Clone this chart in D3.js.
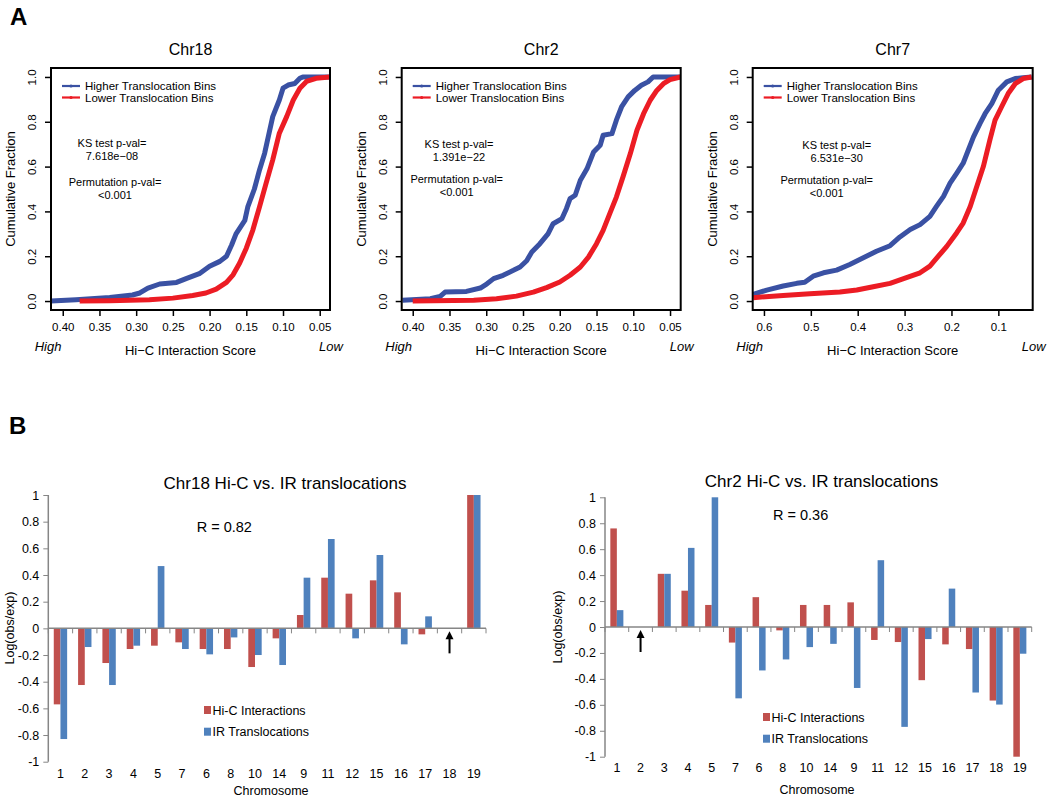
<!DOCTYPE html>
<html><head><meta charset="utf-8">
<script src="https://cdn.jsdelivr.net/npm/d3@7"></script>
<style>body{margin:0;background:#fff} text{font-family:"Liberation Sans",Arial,sans-serif;fill:#000}</style>
</head><body>
<svg id="c" width="1050" height="800"></svg>
<script>
// ---------------- Panel A data ----------------
const ecdfTitles = ["Chr18", "Chr2", "Chr7"];
const ksPvals = ["7.618e\u221208", "1.391e\u221222", "6.531e\u221230"];
const permPvals = ["<0.001", "<0.001", "<0.001"];
const legendLabels = ["Higher Translocation Bins", "Lower Translocation Bins"];
const xTicks18 = [0.40, 0.35, 0.30, 0.25, 0.20, 0.15, 0.10, 0.05];
const xTicks2 = [0.40, 0.35, 0.30, 0.25, 0.20, 0.15, 0.10, 0.05];
const xTicks7 = [0.6, 0.5, 0.4, 0.3, 0.2, 0.1];
const yTicksA = [0.0, 0.2, 0.4, 0.6, 0.8, 1.0];

// [Hi-C score, cumulative fraction]
const chr18High = [[0.416,0],[0.382,0.006],[0.336,0.016],[0.305,0.027],[0.295,0.036],[0.284,0.058],[0.268,0.076],[0.245,0.083],[0.232,0.10],[0.214,0.122],[0.20,0.155],[0.186,0.177],[0.177,0.20],[0.170,0.25],[0.164,0.30],[0.152,0.36],[0.148,0.42],[0.139,0.50],[0.132,0.585],[0.125,0.66],[0.120,0.734],[0.114,0.823],[0.105,0.897],[0.100,0.95],[0.093,0.964],[0.084,0.971],[0.077,0.994],[0.073,1.0],[0.036,1.0]];
const chr18Low = [[0.377,0],[0.336,0.0015],[0.282,0.006],[0.25,0.013],[0.223,0.025],[0.205,0.036],[0.191,0.053],[0.177,0.083],[0.168,0.117],[0.159,0.17],[0.150,0.236],[0.141,0.318],[0.132,0.42],[0.123,0.526],[0.114,0.63],[0.105,0.749],[0.095,0.823],[0.086,0.897],[0.077,0.95],[0.068,0.98],[0.055,0.994],[0.036,1.0]];
const chr2High = [[0.414,0.003],[0.376,0.01],[0.363,0.02],[0.356,0.04],[0.327,0.043],[0.308,0.058],[0.299,0.077],[0.290,0.10],[0.277,0.115],[0.263,0.137],[0.254,0.152],[0.245,0.18],[0.238,0.219],[0.227,0.256],[0.216,0.30],[0.209,0.345],[0.197,0.368],[0.191,0.412],[0.186,0.457],[0.179,0.472],[0.172,0.539],[0.163,0.59],[0.154,0.665],[0.145,0.695],[0.141,0.74],[0.129,0.747],[0.123,0.807],[0.116,0.866],[0.107,0.911],[0.098,0.94],[0.089,0.963],[0.080,0.978],[0.073,1.0],[0.036,1.0]];
const chr2Low = [[0.40,0],[0.317,0.003],[0.286,0.01],[0.259,0.022],[0.236,0.04],[0.218,0.06],[0.20,0.085],[0.186,0.115],[0.172,0.152],[0.161,0.196],[0.150,0.256],[0.141,0.315],[0.132,0.39],[0.123,0.464],[0.114,0.554],[0.104,0.658],[0.095,0.762],[0.086,0.836],[0.077,0.896],[0.068,0.94],[0.059,0.97],[0.05,0.988],[0.036,1.0]];
const chr7High = [[0.623,0.03],[0.594,0.049],[0.559,0.067],[0.530,0.079],[0.513,0.084],[0.495,0.111],[0.473,0.126],[0.445,0.138],[0.417,0.163],[0.388,0.193],[0.360,0.222],[0.331,0.247],[0.310,0.286],[0.288,0.319],[0.267,0.341],[0.246,0.378],[0.232,0.422],[0.217,0.467],[0.203,0.526],[0.189,0.570],[0.175,0.615],[0.164,0.674],[0.153,0.733],[0.139,0.793],[0.128,0.837],[0.114,0.881],[0.1,0.941],[0.082,0.978],[0.064,0.993],[0.047,0.997],[0.029,1.0]];
const chr7Low = [[0.623,0.015],[0.559,0.025],[0.502,0.033],[0.438,0.04],[0.402,0.049],[0.367,0.064],[0.331,0.079],[0.296,0.104],[0.267,0.126],[0.246,0.156],[0.228,0.20],[0.210,0.244],[0.189,0.304],[0.175,0.348],[0.160,0.422],[0.146,0.511],[0.132,0.60],[0.118,0.719],[0.107,0.807],[0.093,0.867],[0.079,0.926],[0.064,0.97],[0.047,0.993],[0.029,1.0]];

// ---------------- Panel B data ----------------
const chromosomes = ["1","2","3","4","5","7","6","8","10","14","9","11","12","15","16","17","18","19"];
const seriesNames = ["Hi-C Interactions", "IR Translocations"];
const chr18HiC = [-0.57,-0.425,-0.26,-0.155,-0.13,-0.105,-0.155,-0.155,-0.29,-0.075,0.10,0.38,0.26,0.36,0.27,-0.045,null,1.0];
const chr18IR  = [-0.83,-0.14,-0.425,-0.13,0.467,-0.155,-0.195,-0.068,-0.20,-0.275,0.38,0.67,-0.075,0.55,-0.12,0.09,null,1.0];
const chr2HiC  = [0.76,null,0.41,0.28,0.17,-0.12,0.23,-0.026,0.17,0.17,0.19,-0.10,-0.116,-0.41,-0.134,-0.17,-0.567,-1.0];
const chr2IR   = [0.13,null,0.41,0.61,1.0,-0.55,-0.335,-0.25,-0.155,-0.13,-0.47,0.515,-0.77,-0.093,0.296,-0.505,-0.598,-0.206];
const barTitles = ["Chr18 Hi-C vs. IR translocations", "Chr2 Hi-C vs. IR translocations"];
const rLabels = ["R = 0.82", "R = 0.36"];
const selfChrom = ["18", "2"];
const yTicksB = [1,0.8,0.6,0.4,0.2,0,-0.2,-0.4,-0.6,-0.8,-1];

const svg = d3.select("#c");
const BLUE = "#3a51a3", RED = "#ec1c24";
const BAR_RED = "#c0504d", BAR_BLUE = "#4f81bd", AXIS_GRAY = "#868686";

// panel labels
svg.append("text").attr("x", 10).attr("y", 25).attr("font-size", 24).attr("font-weight", "bold").text("A");
svg.append("text").attr("x", 9).attr("y", 434).attr("font-size", 24).attr("font-weight", "bold").text("B");

// ---------------- Panel A ----------------
const ecdfData = [[chr18High, chr18Low], [chr2High, chr2Low], [chr7High, chr7Low]];
const xTickSets = [xTicks18, xTicks2, xTicks7];
const tickFmts = [d3.format(".2f"), d3.format(".2f"), d3.format(".1f")];
const boxes = [
  {L: 51, R: 330, dom: [0.416, 0.036], ks: [112, 143], perm: [115, 182]},
  {L: 401.7, R: 680.7, dom: [0.415, 0.0355], ks: [459, 144], perm: [456.7, 179]},
  {L: 752.7, R: 1032.7, dom: [0.624, 0.0267], ks: [836.7, 145], perm: [826.7, 180]}
];
const TOP = 68, BOT = 310;

boxes.forEach((b, i) => {
  const g = svg.append("g");
  const x = d3.scaleLinear().domain(b.dom).range([b.L, b.R]);
  const y = d3.scaleLinear().domain([-0.04, 1.04]).range([BOT, TOP]);

  // curves
  const line = d3.line().x(d => x(d[0])).y(d => y(d[1]));
  const clipId = "clip" + i;
  svg.append("clipPath").attr("id", clipId).append("rect")
    .attr("x", b.L).attr("y", TOP).attr("width", b.R - b.L).attr("height", BOT - TOP);
  [BLUE, RED].forEach((col, k) => {
    g.append("path").datum(ecdfData[i][k]).attr("d", line)
      .attr("fill", "none").attr("stroke", col).attr("stroke-width", 5)
      .attr("stroke-linejoin", "round").attr("clip-path", `url(#${clipId})`);
  });

  // box
  g.append("rect").attr("x", b.L).attr("y", TOP).attr("width", b.R - b.L).attr("height", BOT - TOP)
    .attr("fill", "none").attr("stroke", "#000").attr("stroke-width", 2);

  // x axis
  const xa = g.append("g").attr("transform", `translate(0,${BOT})`)
    .call(d3.axisBottom(x).tickValues(xTickSets[i]).tickFormat(tickFmts[i]).tickSize(6).tickPadding(7));
  xa.select(".domain").remove();
  xa.selectAll("line").attr("stroke", "#000").attr("stroke-width", 1.5);
  xa.selectAll("text").attr("font-size", 11.5).attr("font-family", "Liberation Sans, Arial").attr("fill", "#000");

  // y axis
  const ya = g.append("g").attr("transform", `translate(${b.L},0)`)
    .call(d3.axisLeft(y).tickValues(yTicksA).tickFormat(d3.format(".1f")).tickSize(6));
  ya.select(".domain").remove();
  ya.selectAll("line").attr("stroke", "#000").attr("stroke-width", 1.5);
  ya.selectAll("text").attr("x", 0).attr("dy", 0).attr("text-anchor", "middle")
    .attr("transform", "translate(-15,0) rotate(-90)")
    .attr("font-size", 11.5).attr("font-family", "Liberation Sans, Arial").attr("fill", "#000");

  // y title
  g.append("text").attr("transform", `translate(${b.L - 36},${(TOP + BOT) / 2}) rotate(-90)`)
    .attr("text-anchor", "middle").attr("font-size", 13).text("Cumulative Fraction");

  // title
  g.append("text").attr("x", (b.L + b.R) / 2).attr("y", 54.5).attr("text-anchor", "middle")
    .attr("font-size", 16).text(ecdfTitles[i]);

  // x title & High / Low
  g.append("text").attr("x", (b.L + b.R) / 2).attr("y", 355).attr("text-anchor", "middle")
    .attr("font-size", 13).text("Hi\u2212C Interaction Score");
  g.append("text").attr("x", b.L - 3).attr("y", 351).attr("text-anchor", "middle")
    .attr("font-size", 13).attr("font-style", "italic").text("High");
  g.append("text").attr("x", b.R + 1).attr("y", 351).attr("text-anchor", "middle")
    .attr("font-size", 13).attr("font-style", "italic").text("Low");

  // legend
  [BLUE, RED].forEach((col, k) => {
    const ly = 86 + k * 11.5;
    g.append("line").attr("x1", b.L + 11).attr("x2", b.L + 29).attr("y1", ly).attr("y2", ly)
      .attr("stroke", col).attr("stroke-width", 2.2);
    g.append("circle").attr("cx", b.L + 20).attr("cy", ly).attr("r", 1.6).attr("fill", col);
    g.append("text").attr("x", b.L + 34).attr("y", ly + 4).attr("font-size", 11.5).text(legendLabels[k]);
  });

  // stats text
  g.append("text").attr("x", b.ks[0]).attr("y", b.ks[1] + 4).attr("text-anchor", "middle").attr("font-size", 11).text("KS test p-val=");
  g.append("text").attr("x", b.ks[0]).attr("y", b.ks[1] + 17).attr("text-anchor", "middle").attr("font-size", 11).text(ksPvals[i]);
  g.append("text").attr("x", b.perm[0]).attr("y", b.perm[1] + 4).attr("text-anchor", "middle").attr("font-size", 11).text("Permutation p-val=");
  g.append("text").attr("x", b.perm[0]).attr("y", b.perm[1] + 17).attr("text-anchor", "middle").attr("font-size", 11).text(permPvals[i]);
});

// ---------------- Panel B ----------------
const barSets = [[chr18HiC, chr18IR], [chr2HiC, chr2IR]];
const bBoxes = [
  {x0: 48.3, x1: 486, yTop: 495, yBot: 761.7, title: [285, 489], r: [196.7, 532], leg: [204, 710], ytitle: [14, 628], xlab: 781, xtitle: [271, 795]},
  {x0: 605, x1: 1031.7, yTop: 497.3, yBot: 756.7, title: [821.5, 487], r: [773, 520], leg: [763, 717], ytitle: [562, 627], xlab: 775, xtitle: [817, 794]}
];

bBoxes.forEach((b, i) => {
  const g = svg.append("g");
  const y = d3.scaleLinear().domain([-1, 1]).range([b.yBot, b.yTop]);
  const x = d3.scaleBand().domain(chromosomes).range([b.x0, b.x1]).paddingInner(0.45).paddingOuter(0.225);
  const xs = d3.scaleBand().domain(seriesNames).range([0, x.bandwidth()]);
  const step = x.step();

  // bars
  [BAR_RED, BAR_BLUE].forEach((col, k) => {
    const vals = barSets[i][k];
    g.selectAll(null).data(chromosomes.map((c, j) => ({c, v: vals[j]})).filter(d => d.v !== null))
      .enter().append("rect")
      .attr("x", d => x(d.c) + xs(seriesNames[k]))
      .attr("width", xs.bandwidth())
      .attr("y", d => Math.min(y(d.v), y(0)))
      .attr("height", d => Math.abs(y(d.v) - y(0)))
      .attr("fill", col);
  });

  // y axis
  const ya = g.append("g").attr("transform", `translate(${b.x0},0)`)
    .call(d3.axisLeft(y).tickValues(yTicksB).tickSize(5).tickPadding(4));
  ya.select(".domain").attr("stroke", AXIS_GRAY).attr("stroke-width", 1.5).attr("d", `M0,${b.yTop}V${b.yBot}`);
  ya.selectAll("line").attr("stroke", AXIS_GRAY).attr("stroke-width", 1);
  ya.selectAll("text").attr("font-size", 12.5).attr("font-family", "Liberation Sans, Arial").attr("fill", "#000")
    .text(d => String(+d.toFixed(1)));

  // x axis line at 0 with boundary ticks
  const y0 = y(0);
  g.append("line").attr("x1", b.x0).attr("x2", b.x1).attr("y1", y0).attr("y2", y0)
    .attr("stroke", AXIS_GRAY).attr("stroke-width", 1.5);
  d3.range(chromosomes.length + 1).forEach(j => {
    const tx = b.x0 + j * step;
    g.append("line").attr("x1", tx).attr("x2", tx).attr("y1", y0).attr("y2", y0 + 5)
      .attr("stroke", AXIS_GRAY).attr("stroke-width", 1);
  });

  // category labels
  const xa = g.append("g").attr("transform", `translate(0,${b.xlab - 12})`)
    .call(d3.axisBottom(x).tickSize(0).tickPadding(0));
  xa.select(".domain").remove();
  xa.selectAll("text").attr("font-size", 12.5).attr("font-family", "Liberation Sans, Arial").attr("fill", "#000");

  // arrow at self chromosome
  const ax = x(selfChrom[i]) + x.bandwidth() / 2;
  g.append("line").attr("x1", ax).attr("x2", ax).attr("y1", y0 + 8).attr("y2", y0 + 25)
    .attr("stroke", "#000").attr("stroke-width", 2);
  g.append("path").attr("d", `M${ax - 4},${y0 + 11}L${ax},${y0 + 3}L${ax + 4},${y0 + 11}Z`).attr("fill", "#000");

  // titles and labels
  g.append("text").attr("x", b.title[0]).attr("y", b.title[1]).attr("text-anchor", "middle").attr("font-size", 17).text(barTitles[i]);
  g.append("text").attr("x", b.r[0]).attr("y", b.r[1]).attr("font-size", 14.5).text(rLabels[i]);
  g.append("text").attr("transform", `translate(${b.ytitle[0]},${b.ytitle[1]}) rotate(-90)`)
    .attr("text-anchor", "middle").attr("font-size", 12.5).text("Log(obs/exp)");
  g.append("text").attr("x", b.xtitle[0]).attr("y", b.xtitle[1]).attr("text-anchor", "middle").attr("font-size", 12.5).text("Chromosome");

  // legend
  [BAR_RED, BAR_BLUE].forEach((col, k) => {
    const ly = b.leg[1] + k * 21.7;
    g.append("rect").attr("x", b.leg[0]).attr("y", ly - 4).attr("width", 7).attr("height", 8).attr("fill", col);
    g.append("text").attr("x", b.leg[0] + 8.5).attr("y", ly + 4.5).attr("font-size", 12.5).text(seriesNames[k]);
  });
});
</script>
</body></html>
